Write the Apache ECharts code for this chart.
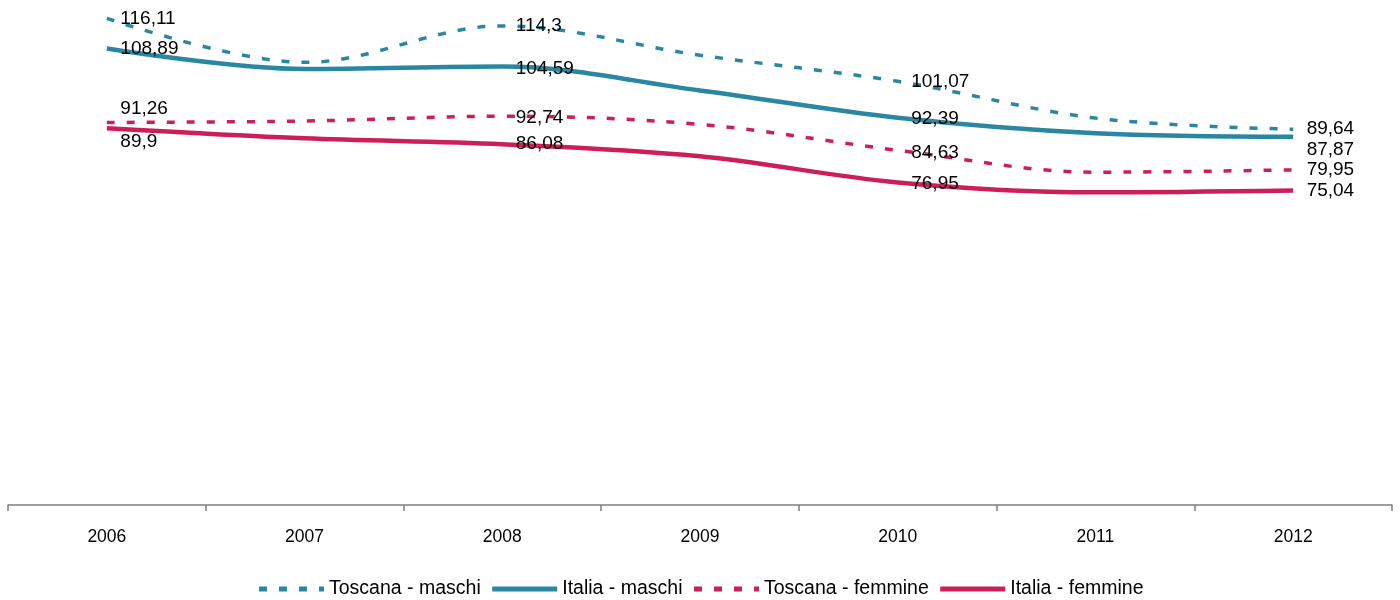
<!DOCTYPE html>
<html>
<head>
<meta charset="utf-8">
<script src="https://cdn.jsdelivr.net/npm/echarts@6/dist/echarts.min.js"></script>
<style>
  html, body { margin: 0; padding: 0; background: #fff; }
  #chart { width: 1400px; height: 600px; }
</style>
</head>
<body>
<div id="chart"></div>
<script>
// Anni
const years = ['2006', '2007', '2008', '2009', '2010', '2011', '2012'];

// Tassi per serie
const toscanaMaschi = [116.11, 105.6, 114.3, 107.3, 101.07, 92.3, 89.64];
const italiaMaschi = [108.89, 104.0, 104.59, 98.9, 92.39, 88.7, 87.87];
const toscanaFemmine = [91.26, 91.6, 92.74, 90.8, 84.63, 79.4, 79.95];
const italiaFemmine = [89.9, 87.5, 86.08, 83.2, 76.95, 74.6, 75.04];

// Vertical nudges of the value labels (per labelled point), in px
const labelShift = {
  tm: [0, 0, 0, 0, 0, 0, 0],
  im: [0, 0, 2, 0, 1, 0, 13],
  tf: [-14, 0, 2, 0, 3, 0, 0],
  ifm: [14, 0, 0, 0, 1, 0, 0]
};

const TEAL = '#2a87a1';
const RED = '#cc1f59';
const FONT = 'Liberation Sans, Arial, sans-serif';

function fmt(v) { return String(v).replace('.', ','); }

function points(values, shifts) {
  return values.map((v, i) => ({
    value: v,
    label: {
      show: i % 2 === 0,
      offset: [0, shifts[i]]
    }
  }));
}

function line(name, values, shifts, color, dashed) {
  return {
    name: name,
    type: 'line',
    smooth: 0.35,
    data: points(values, shifts),
    symbol: 'circle',
    symbolSize: 1,
    showSymbol: true,
    itemStyle: { color: 'rgba(0,0,0,0)', borderWidth: 0 },
    lineStyle: dashed
      ? { color: color, width: 3.5, type: [8, 12] }
      : { color: color, width: 4.5 },
    label: {
      position: 'right',
      distance: 13,
      color: '#000',
      fontFamily: FONT,
      fontSize: 19,
      formatter: p => fmt(p.value)
    },
    emphasis: { disabled: true },
    z: dashed ? 3 : 2
  };
}

const chart = echarts.init(document.getElementById('chart'));
chart.setOption({
  animation: false,
  backgroundColor: '#fff',
  grid: { left: 8, right: 8, top: 2, bottom: 95, containLabel: false },
  legend: {
    top: 574,
    left: 'center',
    itemWidth: 65,
    itemHeight: 14,
    itemGap: 9,
    lineStyle: { width: 5 },
    textStyle: {
      color: '#000',
      fontSize: 19.5,
      fontFamily: FONT
    },
    data: ['Toscana - maschi', 'Italia - maschi', 'Toscana - femmine', 'Italia - femmine']
  },
  xAxis: {
    type: 'category',
    data: years,
    boundaryGap: true,
    axisLine: { lineStyle: { color: '#7f7f7f', width: 1.5 } },
    axisTick: { show: true, length: 6, lineStyle: { color: '#7f7f7f', width: 1.5 } },
    axisLabel: {
      color: '#000',
      fontSize: 17.5,
      margin: 23,
      fontFamily: FONT
    },
    splitLine: { show: false }
  },
  yAxis: {
    type: 'value',
    min: 0,
    max: 120,
    show: false
  },
  series: [
    line('Toscana - maschi', toscanaMaschi, labelShift.tm, TEAL, true),
    line('Italia - maschi', italiaMaschi, labelShift.im, TEAL, false),
    line('Toscana - femmine', toscanaFemmine, labelShift.tf, RED, true),
    line('Italia - femmine', italiaFemmine, labelShift.ifm, RED, false)
  ]
});
</script>
</body>
</html>
